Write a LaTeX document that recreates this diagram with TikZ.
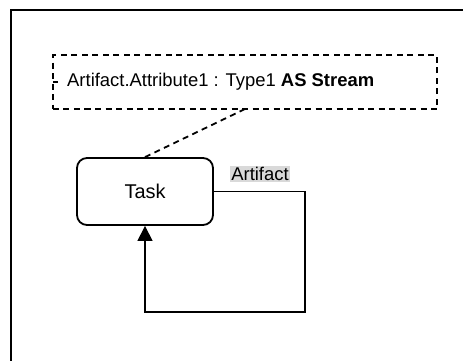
\documentclass[tikz,border=0pt]{standalone}
\usepackage{fontspec}
\setmainfont{Liberation Sans}
\usetikzlibrary{arrows.meta}
\begin{document}
\begin{tikzpicture}[x=1bp,y=-1bp,
  frame/.style={line width=2bp},
  notebox/.style={draw,dashed,dash pattern=on 6bp off 4.5bp,line width=1.8bp,minimum width=384bp,minimum height=54bp,inner sep=0pt},
  taskbox/.style={draw,rounded corners=10bp,line width=1.8bp,minimum width=136bp,minimum height=67bp,inner sep=0pt,font=\fontsize{20}{24}\selectfont},
  lbl/.style={fill=black!15,inner sep=1.5bp,font=\fontsize{18.5}{22}\selectfont},
  flow/.style={line width=1.2bp},
  anchorline/.style={dashed,dash pattern=on 6bp off 4.5bp,line width=1.8bp}]
\useasboundingbox (0,0) rectangle (463,360);
\draw[frame] (463,10) -- (11,10) -- (11,362);
\node[notebox] (note) at (245,82) {};
\node[anchor=west,inner sep=0pt,font=\fontsize{18.5}{22}\selectfont] (notetext) at (67,82) {Artifact.Attribute1 : Type1 \textbf{AS Stream}};
\coordinate (tick) at (53,82);
\draw[line width=1.5bp] (tick) -- ++(5,0);
\node[taskbox] (task) at (145,191.5) {Task};
\coordinate (nb) at (245,109);
\draw[anchorline] (nb) -- (task.north);
\node[lbl] (art) at (260,174) {Artifact};
\coordinate (c1) at (305,191.5);
\coordinate (c2) at (305,312);
\coordinate (c3) at (145,312);
\draw[flow,-{Triangle[length=15bp,width=15bp]}] (task.east) -- (c1) -- (c2) -- (c3) -- (task.south);
\end{tikzpicture}
\end{document}
